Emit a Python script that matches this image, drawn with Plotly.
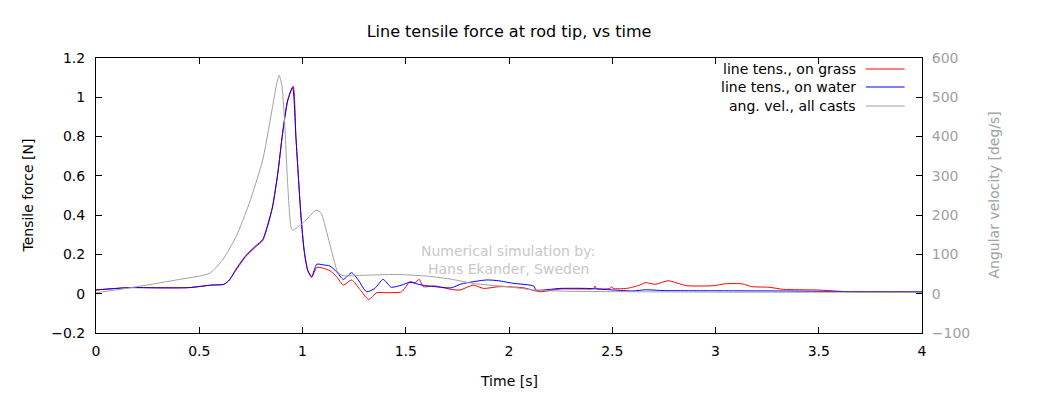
import plotly.graph_objects as go

# ---- data ----
t_grass = [0, 0.16, 0.3, 0.45, 0.56, 0.62, 0.646, 0.678, 0.726, 0.775, 0.807, 0.83, 0.855, 0.88, 0.904, 0.928,
           0.955, 0.968, 0.977, 0.993, 1.008, 1.025, 1.044, 1.069, 1.1, 1.133, 1.165, 1.198, 1.238, 1.278,
           1.32, 1.36, 1.415, 1.48, 1.52, 1.545, 1.565, 1.585, 1.64, 1.72, 1.763, 1.827, 1.876, 1.956, 2.07,
           2.15, 2.247, 2.344, 2.41, 2.416, 2.425, 2.49, 2.497, 2.505, 2.57, 2.634, 2.66, 2.71, 2.77, 2.86,
           2.99, 3.05, 3.13, 3.175, 3.26, 3.33, 3.49, 3.65, 4.0]
f_grass = [0.019, 0.031, 0.03, 0.031, 0.044, 0.048, 0.07, 0.12, 0.19, 0.24, 0.27, 0.34, 0.44, 0.61, 0.82, 0.986,
           1.057, 0.80, 0.647, 0.39, 0.22, 0.12, 0.083, 0.134, 0.13, 0.117, 0.087, 0.044, 0.07, 0.022,
           -0.029, 0.005, 0.005, 0.01, 0.061, 0.056, 0.073, 0.036, 0.04, 0.022, 0.019, 0.044, 0.027, 0.036, 0.03,
           0.01, 0.024, 0.024, 0.026, 0.039, 0.026, 0.027, 0.036, 0.027, 0.027, 0.044, 0.056, 0.048, 0.066, 0.041,
           0.041, 0.051, 0.05, 0.036, 0.033, 0.022, 0.019, 0.01, 0.01]

t_water = [0, 0.16, 0.3, 0.45, 0.56, 0.62, 0.646, 0.678, 0.726, 0.775, 0.807, 0.83, 0.855, 0.88, 0.904, 0.928,
           0.952, 0.968, 0.977, 0.993, 1.008, 1.025, 1.044, 1.069, 1.1, 1.133, 1.165, 1.198, 1.238, 1.27,
           1.31, 1.35, 1.39, 1.43, 1.48, 1.52, 1.577, 1.64, 1.72, 1.77, 1.892, 1.95, 2.02, 2.12, 2.13,
           2.247, 2.376, 2.505, 2.6, 2.66, 2.75, 3.0, 3.3, 3.6, 4.0]
f_water = [0.019, 0.031, 0.03, 0.031, 0.044, 0.048, 0.07, 0.125, 0.195, 0.245, 0.275, 0.345, 0.445, 0.61, 0.82, 0.98,
           1.05, 0.80, 0.647, 0.39, 0.22, 0.12, 0.087, 0.15, 0.147, 0.141, 0.112, 0.073, 0.107, 0.07,
           0.01, 0.027, 0.073, 0.033, 0.044, 0.058, 0.044, 0.036, 0.03, 0.05, 0.07, 0.066, 0.053, 0.039, 0.019,
           0.027, 0.027, 0.019, 0.014, 0.02, 0.016, 0.015, 0.014, 0.011, 0.01]

t_ang = [0, 0.2, 0.4, 0.55, 0.613, 0.678, 0.742, 0.807, 0.855, 0.875, 0.887, 0.9, 0.912, 0.928, 0.944, 0.952,
         1.0, 1.04, 1.065, 1.09, 1.106, 1.14, 1.17, 1.195, 1.3, 1.45, 1.6, 1.72, 1.827, 1.99, 2.13, 2.31,
         2.63, 3.0, 4.0]
w_ang = [2, 18, 36, 52, 86, 145, 230, 340, 476, 535, 556, 530, 450, 281, 170, 162,
         179, 200, 213, 205, 179, 111, 56, 46, 47, 49, 45, 37, 26, 18, 9, 6,
         5, 4, 4]

legend_names = ["line tens., on grass", "line tens., on water", "ang. vel., all casts"]
colors = ["#ff0000", "#0000ff", "#a0a0a0"]

FONT = "DejaVu Sans"

fig = go.Figure()
fig.add_trace(go.Scatter(x=t_grass, y=f_grass, mode="lines", name=legend_names[0],
                         line=dict(color=colors[0], width=1, shape="spline", smoothing=0.6)))
fig.add_trace(go.Scatter(x=t_water, y=f_water, mode="lines", name=legend_names[1],
                         line=dict(color=colors[1], width=1, shape="spline", smoothing=0.6)))
fig.add_trace(go.Scatter(x=t_ang, y=w_ang, mode="lines", name=legend_names[2], yaxis="y2",
                         line=dict(color=colors[2], width=1, shape="spline", smoothing=0.6)))

# custom gnuplot-style legend (text right, sample line to its right)
leg_y = [0.96, 0.8945, 0.8255]
for name, col, yy in zip(legend_names, colors, leg_y):
    fig.add_annotation(x=0.9225, y=yy, xref="paper", yref="paper", text=name, showarrow=False,
                       xanchor="right", yanchor="middle", font=dict(family=FONT, size=14, color="black"))
    fig.add_shape(type="line", xref="paper", yref="paper", x0=0.932, x1=0.979, y0=yy, y1=yy,
                  line=dict(color=col, width=1))

fig.add_annotation(x=0.4988, y=0.298, xref="paper", yref="paper", text="Numerical simulation by:",
                   showarrow=False, xanchor="center", yanchor="middle",
                   font=dict(family=FONT, size=14, color="#c8c8c8"))
fig.add_annotation(x=0.4988, y=0.2327, xref="paper", yref="paper", text="Hans Ekander, Sweden",
                   showarrow=False, xanchor="center", yanchor="middle",
                   font=dict(family=FONT, size=14, color="#c8c8c8"))

# axis titles
fig.add_annotation(x=0.5, y=-0.1745, xref="paper", yref="paper", text="Time [s]", showarrow=False,
                   xanchor="center", yanchor="middle", font=dict(family=FONT, size=14, color="black"))
fig.add_annotation(x=-0.0835, y=0.5, xref="paper", yref="paper", text="Tensile force [N]", showarrow=False,
                   textangle=-90, xanchor="center", yanchor="middle",
                   font=dict(family=FONT, size=14, color="black"))
fig.add_annotation(x=1.086, y=0.5, xref="paper", yref="paper", text="Angular velocity [deg/s]",
                   showarrow=False, textangle=-90, xanchor="center", yanchor="middle",
                   font=dict(family=FONT, size=14, color="#a0a0a0"))

fig.update_layout(
    width=1031, height=386,
    margin=dict(l=88, r=117, t=50, b=61, autoexpand=False),
    paper_bgcolor="white", plot_bgcolor="white",
    showlegend=False,
    font=dict(family=FONT, size=14, color="black"),
    title=dict(text="Line tensile force at rod tip, vs time", x=(509 - 8) / 1031, xanchor="center",
               y=1 - 23 / 386, yanchor="middle", font=dict(family=FONT, size=16, color="black")),
    xaxis=dict(range=[0, 4], dtick=0.5, tick0=0, showgrid=False, zeroline=False,
               showline=True, linecolor="black", linewidth=1, mirror="ticks",
               ticks="inside", ticklen=6, tickcolor="black", ticklabelstandoff=5,
               automargin=False),
    yaxis=dict(range=[-0.2, 1.2], dtick=0.2, tick0=0, showgrid=False, zeroline=False,
               showline=True, linecolor="black", linewidth=1, mirror=True,
               ticks="inside", ticklen=6, tickcolor="black", ticklabelstandoff=7,
               automargin=False),
    yaxis2=dict(range=[-100, 600], dtick=100, tick0=0, overlaying="y", side="right",
                showgrid=False, zeroline=False, showline=True, linecolor="black", linewidth=1,
                ticks="inside", ticklen=6, tickcolor="black", ticklabelstandoff=6,
                tickfont=dict(color="#a0a0a0", family=FONT, size=14), automargin=False),
)

fig.write_html("out.html")
